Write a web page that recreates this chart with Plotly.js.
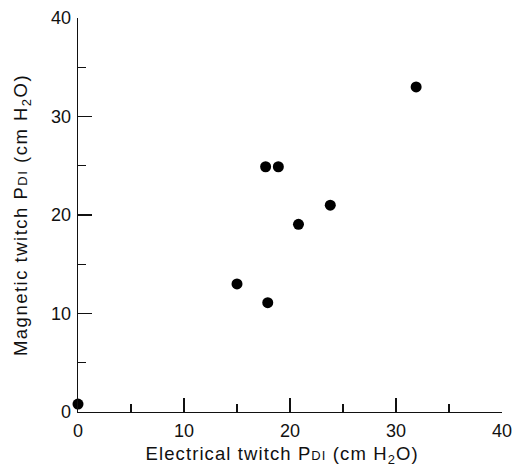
<!DOCTYPE html>
<html>
<head>
<meta charset="utf-8">
<script src="https://cdn.plot.ly/plotly-3.0.1.min.js"></script>
<style>
html,body{margin:0;padding:0;background:#fff;}
#chart{width:512px;height:468px;}
#chart .annotation-text{letter-spacing:1.1px;}
#chart .ytitle{letter-spacing:1.5px;}
</style>
</head>
<body>
<div id="chart"></div>
<script>
const electricalPdi = [0, 15.0, 17.7, 17.9, 18.9, 20.8, 23.8, 31.9];
const magneticPdi   = [0.8, 13.0, 24.9, 11.1, 24.9, 19.05, 21.0, 33.0];
const tickValues = [0, 10, 20, 30, 40];
const tickLabels = ['0', '10', '20', '30', '40'];
const xTitle = 'Electrical twitch P<span style="font-size:13px">DI</span> (cm H<sub>2</sub>O)';
const yTitle = 'Magnetic twitch P<span style="font-size:13px">DI</span> (cm H<sub>2</sub>O)';

const axisFont = {family: 'Liberation Sans, Arial, sans-serif', size: 18.5, color: '#111'};
const tickFont = {family: 'Liberation Sans, Arial, sans-serif', size: 18, color: '#111'};

const trace = {
  x: electricalPdi,
  y: magneticPdi,
  mode: 'markers',
  type: 'scatter',
  cliponaxis: false,
  marker: {color: '#000', size: 11, line: {width: 0}}
};

const commonAxis = {
  range: [0, 40],
  tickmode: 'array',
  tickvals: tickValues,
  ticktext: tickLabels,
  ticks: 'inside',
  ticklen: 14,
  tickwidth: 1.4,
  tickcolor: '#111',
  showline: true,
  linecolor: '#111',
  linewidth: 1.4,
  showgrid: false,
  zeroline: false,
  tickfont: tickFont,
  ticklabeloverflow: 'allow',
  fixedrange: true,
  minor: {ticks: 'inside', ticklen: 8, tickwidth: 1.4, tickcolor: '#111', dtick: 5, tick0: 0, showgrid: false}
};

const layout = {
  width: 512,
  height: 468,
  margin: {l: 78, r: 10, t: 18, b: 56},
  paper_bgcolor: '#fff',
  plot_bgcolor: '#fff',
  showlegend: false,
  xaxis: Object.assign({}, commonAxis, {ticklabelstandoff: 2}),
  yaxis: Object.assign({}, commonAxis, {
    ticklabelstandoff: 2,
    title: {text: yTitle, font: axisFont, standoff: 18}
  }),
  annotations: [{
    text: xTitle,
    xref: 'paper', yref: 'paper',
    x: 0.482, y: -0.108,
    xanchor: 'center', yanchor: 'middle',
    showarrow: false,
    font: axisFont
  }]
};

Plotly.newPlot('chart', [trace], layout, {displayModeBar: false, staticPlot: true});
</script>
</body>
</html>
